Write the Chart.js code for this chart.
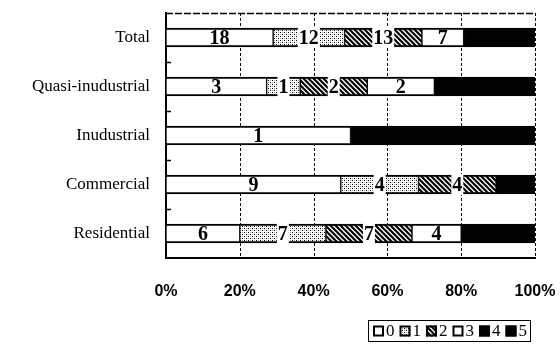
<!DOCTYPE html>
<html>
<head>
<meta charset="utf-8">
<script src="https://cdn.jsdelivr.net/npm/chart.js@4"></script>
<style>
  html, body { margin: 0; padding: 0; background: #fff; }
  #wrap { width: 560px; height: 358px; }
</style>
</head>
<body>
<div id="wrap"><canvas id="c" width="560" height="358"></canvas></div>
<script>
// Categories from top to bottom
const categories = ['Total', 'Quasi-inudustrial', 'Inudustrial', 'Commercial', 'Residential'];

// Counts per rating class (0..5) for each category
const class0 = [18, 3, 1, 9, 6];
const class1 = [12, 1, 0, 4, 7];
const class2 = [13, 2, 0, 4, 7];
const class3 = [7, 2, 0, 0, 4];
const class4 = [0, 0, 0, 0, 0];
const class5 = [12, 3, 1, 2, 6];

const classNames = ['0', '1', '2', '3', '4', '5'];
const xTicks = [0, 20, 40, 60, 80, 100];

const series = [class0, class1, class2, class3, class4, class5];
const totals = categories.map((_, i) => series.reduce((s, arr) => s + arr[i], 0));

// Fill patterns
function dotPattern() {
  const c = document.createElement('canvas');
  c.width = 4; c.height = 4;
  const g = c.getContext('2d');
  g.fillStyle = '#fff'; g.fillRect(0, 0, 4, 4);
  g.fillStyle = '#000';
  g.fillRect(0, 0, 1, 1);
  g.fillRect(2, 2, 1, 1);
  g.fillStyle = 'rgba(0,0,0,0.35)';
  g.fillRect(2, 0, 1, 1);
  g.fillRect(0, 2, 1, 1);
  return g.createPattern(c, 'repeat');
}
function hatchPattern() {
  const s = 5;
  const c = document.createElement('canvas');
  c.width = s; c.height = s;
  const g = c.getContext('2d');
  g.fillStyle = '#fff'; g.fillRect(0, 0, s, s);
  g.strokeStyle = '#000'; g.lineWidth = 2.2;
  g.beginPath();
  g.moveTo(-1, -1); g.lineTo(s + 1, s + 1);
  g.moveTo(-1, s - 1); g.lineTo(1, s + 1);
  g.moveTo(s - 1, -1); g.lineTo(s + 1, 1);
  g.stroke();
  return g.createPattern(c, 'repeat');
}
const fills = ['#ffffff', dotPattern(), hatchPattern(), '#ffffff', '#000000', '#000000'];
const labelled = [true, true, true, true, false, false];
const patterned = [false, true, true, false, false, false];

const datasets = series.map((arr, k) => ({
  label: classNames[k],
  data: arr.map((v, i) => v / totals[i] * 100),
  counts: arr,
  backgroundColor: fills[k],
  borderColor: '#000',
  borderWidth: { top: 2, bottom: 2, left: 1, right: 1 },
  borderSkipped: false,
  barThickness: 19
}));

const serif = "'Liberation Serif', 'Times New Roman', serif";
const sans = "'Liberation Sans', Arial, sans-serif";

// Segment value labels with white boxes behind them
const valueLabels = {
  id: 'valueLabels',
  afterDatasetsDraw(chart) {
    const ctx = chart.ctx;
    ctx.save();
    ctx.font = 'bold 20px ' + serif;
    ctx.textAlign = 'center';
    ctx.textBaseline = 'middle';
    chart.data.datasets.forEach((ds, k) => {
      if (!labelled[k]) return;
      const meta = chart.getDatasetMeta(k);
      meta.data.forEach((bar, i) => {
        const n = ds.counts[i];
        if (!n) return;
        const left = Math.min(bar.x, bar.base), right = Math.max(bar.x, bar.base);
        const cx = (left + right) / 2;
        const txt = String(n);
        const w = ctx.measureText(txt).width;
        if (patterned[k]) {
          ctx.fillStyle = '#fff';
          ctx.fillRect(cx - w / 2 - 1, bar.y - bar.height / 2 - 1, w + 2, bar.height + 2);
        }
        ctx.fillStyle = '#000';
        ctx.fillText(txt, cx, bar.y + 1);
      });
    });
    ctx.restore();
  }
};

// Dotted grid, frame, inner category ticks and the legend box
const frame = {
  id: 'frame',
  beforeDatasetsDraw(chart) {
    const ctx = chart.ctx, a = chart.chartArea, xs = chart.scales.x;
    ctx.save();
    ctx.strokeStyle = '#000';
    ctx.lineWidth = 1;
    ctx.setLineDash([3, 2]);
    ctx.beginPath();
    xTicks.slice(1).forEach(v => {
      const x = Math.round(xs.getPixelForValue(v)) + 0.5;
      ctx.moveTo(x, a.top); ctx.lineTo(x, a.bottom);
    });
    ctx.stroke();
    ctx.lineWidth = 1.5;
    ctx.setLineDash([7, 2]);
    ctx.beginPath();
    ctx.moveTo(a.left, a.top + 0.5); ctx.lineTo(a.right, a.top + 0.5);
    ctx.stroke();
    ctx.setLineDash([]);
    const step = (a.bottom - a.top) / categories.length;
    ctx.beginPath();
    for (let i = 1; i < categories.length; i++) {
      const y = Math.round(a.top + step * i) + 0.5;
      ctx.moveTo(a.left, y); ctx.lineTo(a.left + 5, y);
    }
    ctx.stroke();
    ctx.restore();
  },
  afterDraw(chart) {
    const ctx = chart.ctx;
    ctx.save();
    const bx = 368, by = 320, bw = 162, bh = 21;
    ctx.strokeStyle = '#000';
    ctx.lineWidth = 1;
    ctx.strokeRect(bx + 0.5, by + 0.5, bw, bh);
    ctx.font = '17px ' + serif;
    ctx.textBaseline = 'middle';
    let x = bx + 5;
    const cy = by + bh / 2 + 1;
    classNames.forEach((name, k) => {
      ctx.fillStyle = fills[k];
      ctx.fillRect(x, cy - 6, 11, 11);
      ctx.lineWidth = 2;
      ctx.strokeRect(x + 1, cy - 5, 9, 9);
      ctx.fillStyle = '#000';
      ctx.fillText(name, x + 13, cy);
      x += 26.5;
    });
    ctx.restore();
  }
};

function noEdgePadding(s) {
  s.paddingLeft = 0; s.paddingRight = 0; s.paddingTop = 0; s.paddingBottom = 0;
}

new Chart(document.getElementById('c'), {
  type: 'bar',
  data: { labels: categories, datasets },
  options: {
    indexAxis: 'y',
    responsive: false,
    animation: false,
    layout: { padding: { top: 13, right: 25, bottom: 50, left: 0 } },
    plugins: { legend: { display: false }, tooltip: { enabled: false } },
    scales: {
      x: {
        stacked: true,
        min: 0,
        max: 100,
        afterBuildTicks(s) { s.ticks = xTicks.map(v => ({ value: v })); },
        afterFit(s) { s.height = 50; noEdgePadding(s); },
        ticks: {
          color: '#000',
          font: { family: sans, size: 16, weight: 'bold' },
          padding: 24,
          maxRotation: 0,
          callback: v => v + '%'
        },
        grid: { display: false, drawTicks: false },
        border: { display: true, color: '#000', width: 2 }
      },
      y: {
        stacked: true,
        afterFit(s) { s.width = 166; noEdgePadding(s); },
        ticks: {
          color: '#000',
          font: { family: serif, size: 17 },
          padding: 16
        },
        grid: { display: false, drawTicks: false },
        border: { display: true, color: '#000', width: 2 }
      }
    }
  },
  plugins: [frame, valueLabels]
});
</script>
</body>
</html>
